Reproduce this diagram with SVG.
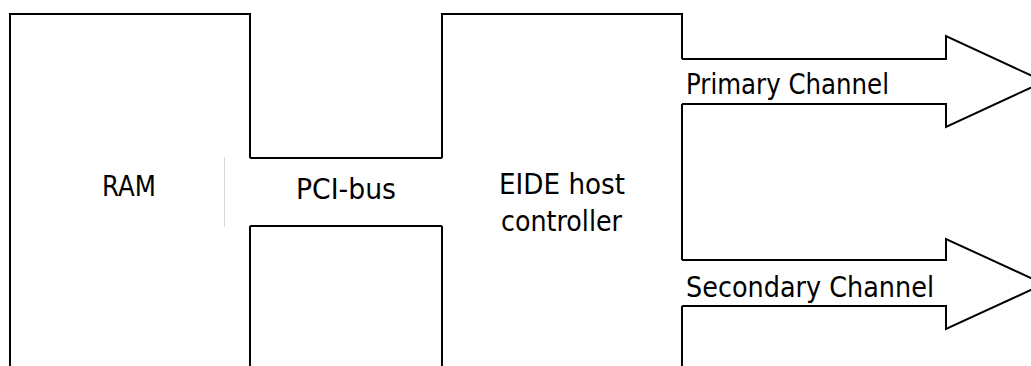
<svg xmlns="http://www.w3.org/2000/svg" width="1031" height="366" viewBox="0 0 1031 366">
<style>
.ln{fill:none;stroke:#000;stroke-width:2;stroke-linejoin:miter}
.ar{fill:#fff;stroke:#000;stroke-width:2;stroke-linejoin:miter}
.t{font-family:"DejaVu Sans","Liberation Sans",sans-serif;font-size:29px;fill:#000}
</style>
<rect width="1031" height="366" fill="#fff"/>
<g id="ram">
<path class="ln" d="M10,366 V14 H250 V158 M250,226 V366"/>
<line x1="224.5" y1="157" x2="224.5" y2="227" stroke="#d9d9d9" stroke-width="1"/>
<text class="t" x="102" y="196" textLength="54" lengthAdjust="spacingAndGlyphs">RAM</text>
</g>
<g id="eide">
<path class="ln" d="M442,158 V14 H682 V59 M682,104 V260 M682,306 V366 M442,226 V366"/>
<text class="t" x="499" y="194" textLength="126" lengthAdjust="spacingAndGlyphs">EIDE host</text>
<text class="t" x="501" y="231" textLength="121" lengthAdjust="spacingAndGlyphs">controller</text>
</g>
<g id="connectors">
<g id="pci-bus">
<path class="ln" d="M250,158 H442 M250,226 H442"/>
<text class="t" x="296" y="199" textLength="100" lengthAdjust="spacingAndGlyphs">PCI-bus</text>
</g>
<g id="primary-channel">
<path class="ln" d="M682,59 H946 V36 L1044,81.5 L946,127 V104 H682"/>
<text class="t" x="686" y="94" textLength="203" lengthAdjust="spacingAndGlyphs">Primary Channel</text>
</g>
<g id="secondary-channel">
<path class="ln" d="M682,260 H946 V239 L1044,284 L946,329 V306 H682"/>
<text class="t" x="686" y="297" textLength="248" lengthAdjust="spacingAndGlyphs">Secondary Channel</text>
</g>
</g>
</svg>
